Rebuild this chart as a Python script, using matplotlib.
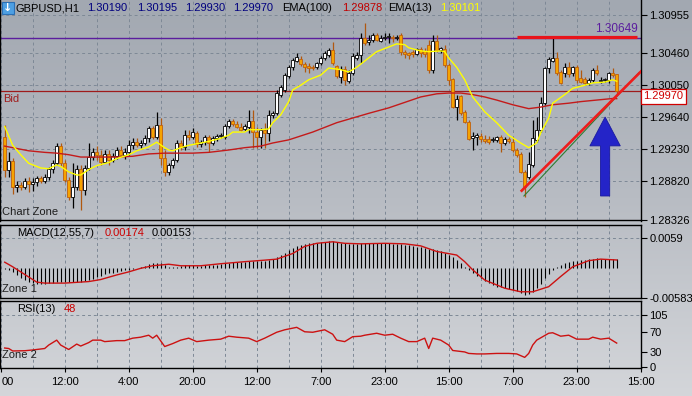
import numpy as np
import matplotlib
matplotlib.use("Agg")
import matplotlib.pyplot as plt
from matplotlib.colors import LinearSegmentedColormap
from matplotlib.patches import FancyArrow, Rectangle
from matplotlib.transforms import blended_transform_factory

# ---- values (GBPUSD H1, one entry per bar) ----
opens = [
    1.2939, 1.2896, 1.2908, 1.2875, 1.2877, 1.2875, 1.2882, 1.2879, 1.2881, 1.2886,
    1.2882, 1.2887, 1.2898, 1.2905, 1.2927, 1.2905, 1.2884, 1.2862, 1.2875, 1.2898,
    1.2871, 1.2899, 1.2913, 1.2920, 1.2916, 1.2907, 1.2917, 1.2909, 1.2914, 1.2922,
    1.2916, 1.2920, 1.2928, 1.2932, 1.2928, 1.2931, 1.2937, 1.2950, 1.2939, 1.2954,
    1.2912, 1.2894, 1.2903, 1.2909, 1.2931, 1.2926, 1.2941, 1.2939, 1.2944, 1.2930,
    1.2932, 1.2939, 1.2931, 1.2937, 1.2940, 1.2939, 1.2953, 1.2959, 1.2955, 1.2952,
    1.2949, 1.2952, 1.2959, 1.2945, 1.2939, 1.2948, 1.2944, 1.2967, 1.2969, 1.2993,
    1.2999, 1.3017, 1.3028, 1.3036, 1.3039, 1.3032, 1.3030, 1.3028, 1.3028, 1.3034,
    1.3040, 1.3044, 1.3050, 1.3030, 1.3016, 1.3026, 1.3010, 1.3021, 1.3040, 1.3044,
    1.3066, 1.3060, 1.3063, 1.3069, 1.3062, 1.3066, 1.3067, 1.3067, 1.3066, 1.3069,
    1.3048, 1.3046, 1.3048, 1.3045, 1.3051, 1.3049, 1.3057, 1.3025, 1.3062, 1.3050,
    1.3051, 1.3031, 1.3013, 1.2977, 1.2991, 1.2971, 1.2958, 1.2937, 1.2939, 1.2940,
    1.2936, 1.2936, 1.2935, 1.2935, 1.2939, 1.2931, 1.2936, 1.2932, 1.2922, 1.2917,
    1.2894, 1.2887, 1.2903, 1.2935, 1.2948, 1.2982, 1.3027, 1.3036, 1.3040, 1.3022,
    1.3021, 1.3028, 1.3021, 1.3028, 1.3014, 1.3013, 1.3008, 1.3012, 1.3025, 1.3010,
    1.3012, 1.3012, 1.3021, 1.30190]
highs = [
    1.2954, 1.2920, 1.2912, 1.2882, 1.2881, 1.2886, 1.2887, 1.2886, 1.2889, 1.2889,
    1.2891, 1.2900, 1.2909, 1.2931, 1.2931, 1.2909, 1.2887, 1.2905, 1.2903, 1.2903,
    1.2903, 1.2931, 1.2925, 1.2927, 1.2922, 1.2922, 1.2922, 1.2918, 1.2926, 1.2927,
    1.2925, 1.2935, 1.2937, 1.2937, 1.2935, 1.2941, 1.2953, 1.2953, 1.2971, 1.2963,
    1.2922, 1.2905, 1.2912, 1.2935, 1.2935, 1.2948, 1.2948, 1.2950, 1.2946, 1.2935,
    1.2941, 1.2941, 1.2940, 1.2943, 1.2944, 1.2955, 1.2962, 1.2962, 1.2959, 1.2957,
    1.2955, 1.2973, 1.2973, 1.2952, 1.2950, 1.2957, 1.2973, 1.2972, 1.2999, 1.3005,
    1.3021, 1.3031, 1.3040, 1.3046, 1.3042, 1.3035, 1.3034, 1.3031, 1.3035, 1.3042,
    1.3049, 1.3053, 1.3060, 1.3031, 1.3030, 1.3030, 1.3025, 1.3046, 1.3048, 1.3072,
    1.3085, 1.3069, 1.3072, 1.3072, 1.3069, 1.3072, 1.3072, 1.3069, 1.3069, 1.3072,
    1.3050, 1.3048, 1.3050, 1.3053, 1.3054, 1.3053, 1.3063, 1.3069, 1.3069, 1.3054,
    1.3057, 1.3034, 1.3014, 1.2993, 1.2993, 1.2973, 1.2961, 1.2945, 1.2944, 1.2944,
    1.2941, 1.2940, 1.2939, 1.2940, 1.2941, 1.2939, 1.2939, 1.2939, 1.2925, 1.2920,
    1.2896, 1.2920, 1.2961, 1.2964, 1.2990, 1.3028, 1.3041, 1.3066, 1.3048, 1.3025,
    1.3034, 1.3035, 1.3030, 1.3031, 1.3025, 1.3016, 1.3014, 1.3027, 1.3031, 1.3016,
    1.3014, 1.3022, 1.3027, 1.30195]
lows = [
    1.2887, 1.2887, 1.2866, 1.2868, 1.2871, 1.2872, 1.2868, 1.2870, 1.2876, 1.2880,
    1.2880, 1.2884, 1.2893, 1.2903, 1.2902, 1.2881, 1.2858, 1.2848, 1.2871, 1.2845,
    1.2864, 1.2896, 1.2909, 1.2909, 1.2903, 1.2905, 1.2903, 1.2907, 1.2911, 1.2913,
    1.2911, 1.2916, 1.2923, 1.2926, 1.2925, 1.2928, 1.2932, 1.2936, 1.2936, 1.2903,
    1.2889, 1.2890, 1.2899, 1.2907, 1.2922, 1.2922, 1.2935, 1.2936, 1.2926, 1.2926,
    1.2928, 1.2920, 1.2928, 1.2934, 1.2937, 1.2936, 1.2950, 1.2953, 1.2950, 1.2946,
    1.2946, 1.2944, 1.2925, 1.2925, 1.2925, 1.2925, 1.2934, 1.2963, 1.2967, 1.2990,
    1.2996, 1.3014, 1.3025, 1.3035, 1.3030, 1.3022, 1.3021, 1.3025, 1.3026, 1.3031,
    1.3037, 1.3041, 1.3031, 1.3014, 1.3008, 1.3005, 1.3008, 1.3018, 1.3037, 1.3034,
    1.3057, 1.3057, 1.3060, 1.3062, 1.3060, 1.3063, 1.3059, 1.3060, 1.3063, 1.3044,
    1.3040, 1.3039, 1.3041, 1.3044, 1.3041, 1.3041, 1.3021, 1.3021, 1.3048, 1.3046,
    1.3028, 1.3005, 1.2976, 1.2961, 1.2967, 1.2957, 1.2935, 1.2922, 1.2928, 1.2932,
    1.2931, 1.2930, 1.2932, 1.2932, 1.2920, 1.2928, 1.2931, 1.2920, 1.2913, 1.2893,
    1.2862, 1.2885, 1.2900, 1.2932, 1.2945, 1.2980, 1.3021, 1.3035, 1.3018, 1.3007,
    1.3016, 1.3016, 1.3017, 1.3008, 1.3008, 1.3005, 1.3005, 1.3009, 1.3018, 1.3008,
    1.3009, 1.3008, 1.3016, 1.29930]
closes = [
    1.2896, 1.2908, 1.2875, 1.2877, 1.2875, 1.2882, 1.2879, 1.2881, 1.2886, 1.2882,
    1.2887, 1.2898, 1.2905, 1.2927, 1.2905, 1.2884, 1.2862, 1.2875, 1.2898, 1.2871,
    1.2899, 1.2913, 1.2920, 1.2916, 1.2907, 1.2917, 1.2909, 1.2914, 1.2922, 1.2916,
    1.2920, 1.2928, 1.2932, 1.2928, 1.2931, 1.2937, 1.2950, 1.2939, 1.2954, 1.2912,
    1.2894, 1.2903, 1.2909, 1.2931, 1.2926, 1.2941, 1.2939, 1.2945, 1.2930, 1.2932,
    1.2939, 1.2931, 1.2937, 1.2940, 1.2941, 1.2953, 1.2959, 1.2955, 1.2952, 1.2948,
    1.2953, 1.2959, 1.2945, 1.2939, 1.2948, 1.2944, 1.2967, 1.2969, 1.2995, 1.3003,
    1.3018, 1.3028, 1.3037, 1.3041, 1.3032, 1.3028, 1.3027, 1.3027, 1.3034, 1.3040,
    1.3046, 1.3050, 1.3034, 1.3017, 1.3026, 1.3012, 1.3021, 1.3042, 1.3044, 1.3066,
    1.3059, 1.3063, 1.3069, 1.3063, 1.3066, 1.3067, 1.3068, 1.3066, 1.3067, 1.3048,
    1.3045, 1.3044, 1.3045, 1.3051, 1.3046, 1.3045, 1.3025, 1.3062, 1.3050, 1.3053,
    1.3031, 1.3012, 1.2977, 1.2987, 1.2969, 1.2958, 1.2936, 1.2940, 1.2941, 1.2936,
    1.2933, 1.2932, 1.2936, 1.2939, 1.2931, 1.2936, 1.2933, 1.2922, 1.2916, 1.2894,
    1.2875, 1.2904, 1.2937, 1.2948, 1.2982, 1.3027, 1.3039, 1.3040, 1.3021, 1.3008,
    1.3028, 1.3019, 1.3028, 1.3012, 1.3009, 1.3008, 1.3012, 1.3025, 1.3021, 1.3012,
    1.3013, 1.3021, 1.3018, 1.29970]

# moving averages, read at a set of bars
ema100_x = [0, 1, 4, 6, 10, 13, 16, 19, 24, 28, 32, 36, 40, 43, 47, 51, 56, 60, 64, 67,
            71, 74, 77, 80, 83, 87, 91, 96, 100, 104, 108, 111, 114, 117, 120, 123, 127,
            131, 134, 137, 141, 144, 148, 152, 153]
ema100 = [1.2927, 1.2926, 1.2923, 1.2921, 1.2919, 1.2918, 1.2916, 1.2913, 1.2913, 1.2913,
          1.2914, 1.2917, 1.2918, 1.2918, 1.2918, 1.2919, 1.2922, 1.2925, 1.2927, 1.2931,
          1.2935, 1.2940, 1.2945, 1.2951, 1.2957, 1.2963, 1.2969, 1.2976, 1.2983, 1.2990,
          1.2994, 1.2995, 1.2995, 1.2993, 1.2990, 1.2986, 1.2980, 1.2975, 1.2977, 1.2980,
          1.2982, 1.2984, 1.2986, 1.2988, 1.29878]
ema13_x = [0, 2, 4, 6, 9, 11, 13, 14, 16, 18, 19, 21, 23, 26, 28, 31, 33, 36, 38, 40,
           41, 42, 44, 46, 49, 51, 54, 56, 57, 60, 61, 64, 66, 67, 69, 71, 72, 74, 76, 79,
           81, 84, 86, 88, 91, 93, 96, 98, 100, 101, 104, 106, 109, 110, 111, 113, 115,
           117, 120, 123, 126, 129, 131, 133, 134, 136, 137, 140, 142, 145, 147, 150,
           152, 153]
ema13 = [1.2952, 1.2928, 1.2916, 1.2905, 1.2899, 1.2898, 1.2903, 1.2901, 1.2894, 1.2890,
         1.2890, 1.2897, 1.2902, 1.2906, 1.2911, 1.2916, 1.2921, 1.2926, 1.2932, 1.2925,
         1.2922, 1.2921, 1.2925, 1.2928, 1.2931, 1.2933, 1.2937, 1.2941, 1.2945, 1.2945,
         1.2948, 1.2948, 1.2949, 1.2957, 1.2967, 1.2984, 1.2999, 1.3005, 1.3012, 1.3018,
         1.3027, 1.3025, 1.3022, 1.3028, 1.3040, 1.3048, 1.3054, 1.3058, 1.3057, 1.3053,
         1.3049, 1.3048, 1.3049, 1.3048, 1.3040, 1.3028, 1.3012, 1.2990, 1.2971, 1.2957,
         1.2941, 1.2931, 1.2925, 1.2931, 1.2944, 1.2963, 1.2982, 1.2993, 1.3001, 1.3005,
         1.3008, 1.3009, 1.3012, 1.30101]

# MACD(12,55,7): histogram per bar, signal read at a set of bars
macd_hist = [
    -0.00029, -0.00042, -0.00075, -0.00140, -0.00206, -0.00238, -0.00271, -0.00291, -0.00317, -0.00323,
    -0.00317, -0.00304, -0.00291, -0.00278, -0.00271, -0.00271, -0.00278, -0.00284, -0.00278, -0.00271,
    -0.00258, -0.00238, -0.00219, -0.00186, -0.00160, -0.00127, -0.00108, -0.00095, -0.00075, -0.00062,
    -0.00049, -0.00036, -0.00023, 0.00003, 0.00023, 0.00042, 0.00075, 0.00088, 0.00101, 0.00088,
    0.00056, 0.00023, 0.00010, 0.00023, 0.00036, 0.00049, 0.00049, 0.00049, 0.00036, 0.00036,
    0.00049, 0.00056, 0.00056, 0.00062, 0.00075, 0.00088, 0.00101, 0.00108, 0.00114, 0.00114,
    0.00121, 0.00127, 0.00127, 0.00127, 0.00134, 0.00140, 0.00153, 0.00166, 0.00206, 0.00251,
    0.00297, 0.00349, 0.00389, 0.00428, 0.00454, 0.00467, 0.00480, 0.00487, 0.00493, 0.00500,
    0.00506, 0.00519, 0.00519, 0.00506, 0.00493, 0.00480, 0.00467, 0.00467, 0.00467, 0.00480,
    0.00480, 0.00480, 0.00480, 0.00480, 0.00480, 0.00480, 0.00480, 0.00473, 0.00467, 0.00467,
    0.00454, 0.00441, 0.00428, 0.00415, 0.00402, 0.00389, 0.00375, 0.00362, 0.00349, 0.00323,
    0.00297, 0.00258, 0.00206, 0.00153, 0.00088, 0.00023, -0.00042, -0.00108, -0.00160, -0.00206,
    -0.00251, -0.00291, -0.00336, -0.00369, -0.00382, -0.00402, -0.00421, -0.00434, -0.00460, -0.00486,
    -0.00526, -0.00513, -0.00467, -0.00402, -0.00317, -0.00206, -0.00121, -0.00042, 0.00023, 0.00056,
    0.00088, 0.00114, 0.00127, 0.00140, 0.00153, 0.00160, 0.00166, 0.00180, 0.00186, 0.00180,
    0.00173, 0.00166, 0.00170, 0.00174]
signal_x = [0, 2, 5, 8, 10, 15, 21, 24, 28, 31, 34, 37, 41, 44, 49, 54, 60, 65, 68, 72,
            75, 78, 82, 85, 89, 95, 100, 104, 108, 113, 115, 117, 120, 125, 129, 132, 136,
            139, 142, 146, 149, 153]
signal = [0.0011, 0.0002, -0.0013, -0.0028, -0.0030, -0.0030, -0.0027, -0.0023, -0.0014, -0.0008,
          -0.0001, 0.0004, 0.0007, 0.0004, 0.0004, 0.0008, 0.0012, 0.0015, 0.0017, 0.0028,
          0.0042, 0.0048, 0.0051, 0.0048, 0.0047, 0.0048, 0.0047, 0.0043, 0.0032, 0.0025,
          0.0012, -0.0004, -0.0024, -0.0040, -0.0047, -0.0047, -0.0037, -0.0017, 0.0002, 0.0014,
          0.0017, 0.00153]

# RSI(13)
rsi_x = [0, 1, 2, 5, 7, 10, 11, 13, 14, 16, 18, 19, 21, 22, 24, 25, 28, 30, 32, 34,
         36, 37, 38, 40, 42, 44, 46, 48, 51, 54, 56, 58, 61, 63, 65, 68, 70, 73, 75, 77,
         80, 82, 83, 85, 87, 89, 90, 93, 95, 97, 99, 101, 103, 105, 106, 107, 109, 111,
         112, 115, 116, 118, 120, 123, 126, 128, 130, 131, 132, 133, 136, 137, 139, 141,
         143, 146, 147, 149, 151, 153]
rsi = [38, 37, 32, 32.5, 34, 37, 44, 54, 44, 35, 46, 42, 49, 54, 54, 51, 53, 53, 58, 60,
       64, 58, 64, 41, 47, 54, 58, 51, 54, 56, 62, 60, 58, 51, 58, 70, 75, 80, 71, 70,
       75, 66, 54, 51, 61, 62, 64, 68, 64, 66, 58, 51, 51, 58, 37, 58, 54, 44,
       33, 30, 27, 26, 26, 27, 27, 26, 19, 27, 44, 54, 68, 69, 62, 64,
       56, 56, 60, 56, 58, 48]

price_ticks = [1.30955, 1.30460, 1.30050, 1.29640, 1.29230, 1.28820, 1.28326]
macd_ticks = [0.0059, -0.00583]
rsi_ticks = [105, 70, 30, 0]
time_pos = [-1, 15, 31, 47, 63, 79, 95, 111, 127, 143, 159]
time_labels = ["00", "12:00", "4:00", "20:00", "12:00", "7:00", "23:00",
               "15:00", "7:00", "23:00", "15:00"]
grid_pos = list(range(-1, 160, 8))

resistance = 1.30649
bid = 1.29970
high_line_x = [128.1, 158.1]
high_line_y = [1.30672, 1.30672]
trend_x = [129.25, 159.25]
trend_y = [1.28699, 1.30236]
trend2_x = [129.8, 158.6]
trend2_y = [1.28631, 1.30213]
arrow_x = 150.1
arrow_y = [1.28631, 1.29643]

plt.rcParams['font.family'] = ['Liberation Sans', 'DejaVu Sans']
plt.rcParams['font.size'] = 8

W, H = 692, 396
GRID = '#7d8896'


def box(x0, y0, x1, y1):
    # pixel rectangle (origin top-left) -> figure fraction
    return [x0 / W, 1 - y1 / H, (x1 - x0) / W, (y1 - y0) / H]


def ftext(x, y, s, **kw):
    fig.text(x / W, 1 - y / H, s, va='center', ha='left', **kw)


fig = plt.figure(figsize=(W / 100, H / 100), dpi=100)

# soft grey gradient behind everything
bg = fig.add_axes([0, 0, 1, 1], zorder=-10)
grad = np.linspace(0, 1, 256).reshape(-1, 1)
bg.imshow(grad, aspect='auto', extent=[0, 1, 0, 1],
          cmap=LinearSegmentedColormap.from_list('bg', ['#a2a8b1', '#b8bcc3', '#d4d6da']))
bg.axis('off')

ax = fig.add_axes(box(0, 0, 641, 220.5))
ax2 = fig.add_axes(box(0, 225, 641, 298), sharex=ax)
ax3 = fig.add_axes(box(0, 301, 641, 368), sharex=ax)

for a in (ax, ax2, ax3):
    a.set_facecolor('none')
    for g in grid_pos:
        a.axvline(g, color=GRID, lw=0.7, ls=(0, (3, 3)), zorder=0)
    for s in a.spines.values():
        s.set_color('black')
        s.set_linewidth(1)
    a.yaxis.tick_right()
    a.tick_params(axis='y', direction='out', length=4, width=0.8, pad=2,
                  labelsize=8, colors='black')
    a.tick_params(axis='x', bottom=False, labelbottom=False)
ax.spines['top'].set_visible(False)

# ---- price pane ----
ax.set_xlim(-1.175, 159.075)
ax.set_ylim(1.28317, 1.31142)
for t in price_ticks:
    ax.axhline(t, color=GRID, lw=0.7, ls=(0, (3, 3)), zorder=0)
ax.set_yticks(price_ticks)
ax.set_yticklabels([f'{t:.5f}' for t in price_ticks])

ax.axhline(resistance, color='#5b1e9e', lw=1, zorder=1)
ax.axhline(bid, color='#9e1b1b', lw=0.9, zorder=1)

o = np.array(opens)
h = np.array(highs)
l = np.array(lows)
c = np.array(closes)
idx = np.arange(len(c))
up = c >= o
body = np.maximum(np.abs(c - o), 0.00003)
base = np.minimum(o, c)
ax.vlines(idx[up], l[up], h[up], color='black', lw=0.9, zorder=2)
ax.vlines(idx[~up], l[~up], h[~up], color='#b0580f', lw=0.9, zorder=2)
ax.bar(idx[up], body[up], bottom=base[up], width=0.72, color='white',
       edgecolor='black', linewidth=0.6, zorder=3)
ax.bar(idx[~up], body[~up], bottom=base[~up], width=0.72, color='#f5a300',
       edgecolor='#bf600e', linewidth=0.6, zorder=3)

ax.plot(ema100_x, ema100, color='#c41a1a', lw=1, zorder=4)
ax.plot(ema13_x, ema13, color='#ffff00', lw=1, zorder=4)

ax.plot(high_line_x, high_line_y, color='#e8141b', lw=2.3, zorder=5, solid_capstyle='butt')
ax.plot(trend2_x, trend2_y, color='#2e7d32', lw=0.8, zorder=5)
ax.plot(trend_x, trend_y, color='#ee1c1c', lw=1.9, zorder=6)
ax.add_patch(FancyArrow(arrow_x, arrow_y[0], 0, arrow_y[1] - arrow_y[0],
                        width=2.3, head_width=7.6, head_length=0.0037,
                        length_includes_head=True, fc='#2424c8', ec='#1a1aa0',
                        lw=0.6, zorder=7))

ax.annotate(f'{resistance:.5f}', xy=(158.3, resistance), xytext=(0, 2.5),
            textcoords='offset points', ha='right', va='bottom',
            color='#5b1e9e', fontsize=8.5)
ax.text(1.004, bid, f'{bid:.5f}', transform=blended_transform_factory(ax.transAxes, ax.transData),
        ha='left', va='top', color='#d00000', fontsize=8, clip_on=False,
        bbox=dict(boxstyle='square,pad=0.22', fc='white', ec='#d00000', lw=0.9))

# ---- MACD pane ----
ax2.set_ylim(-0.00592, 0.00839)
ax2.axhline(0.0059, color=GRID, lw=0.7, ls=(0, (3, 3)), zorder=0)
ax2.vlines(idx, 0, macd_hist, color='black', lw=0.8, zorder=2)
ax2.plot(signal_x, signal, color='#cc1111', lw=1, zorder=3)
ax2.set_yticks(macd_ticks)
ax2.set_yticklabels(['0.0059', '-0.00583'])

# ---- RSI pane ----
ax3.set_ylim(-2.6, 133.5)
ax3.axhline(105, color=GRID, lw=0.7, ls=(0, (3, 3)), zorder=0)
ax3.plot(rsi_x, rsi, color='#cc1111', lw=1, zorder=3)
ax3.set_yticks(rsi_ticks)
ax3.set_yticklabels([str(t) for t in rsi_ticks])
# the first time label sits on the left edge and only "00" shows; drawn separately
ax3.set_xticks(time_pos)
ax3.set_xticklabels([''] + time_labels[1:])
ax3.tick_params(axis='x', bottom=True, labelbottom=True, direction='out', length=3,
                width=0.8, pad=3.5, labelsize=8, colors='black')
ftext(1.5, 381.7, time_labels[0], color='black')

# ---- header and pane labels ----
fig.patches.append(Rectangle((2 / W, 1 - 14 / H), 12 / W, 12 / H, transform=fig.transFigure,
                             fc='#4d9fe3', ec='#2b6fb5', lw=0.8))
fig.text(8 / W, 1 - 8 / H, '\u2193', ha='center', va='center', color='white',
         fontsize=8, fontweight='bold', family='DejaVu Sans')
ftext(16, 8.3, 'GBPUSD,H1', color='black')
for x, s in zip([87, 137, 185, 233], ['1.30190', '1.30195', '1.29930', '1.29970']):
    ftext(x, 8.3, s, color='#00007f')
ftext(282, 8.3, 'EMA(100)', color='black')
ftext(342, 8.3, '1.29878', color='#c00000')
ftext(388, 8.3, 'EMA(13)', color='black')
ftext(440, 8.3, '1.30101', color='#ffff00')

ftext(3, 99.3, 'Bid', color='#a01c1c')
ftext(2.5, 211.7, 'Chart Zone', color='#1e1e1e')
ftext(17, 232.7, 'MACD(12,55,7)', color='black')
ftext(105, 232.7, '0.00174', color='#cc0000')
ftext(152, 232.7, '0.00153', color='black')
ftext(2, 289.5, 'Zone 1', color='#1e1e1e')
ftext(17, 309, 'RSI(13)', color='black')
ftext(64, 309, '48', color='#cc0000')
ftext(2, 355, 'Zone 2', color='#1e1e1e')

fig.savefig('out.png', dpi=100)
